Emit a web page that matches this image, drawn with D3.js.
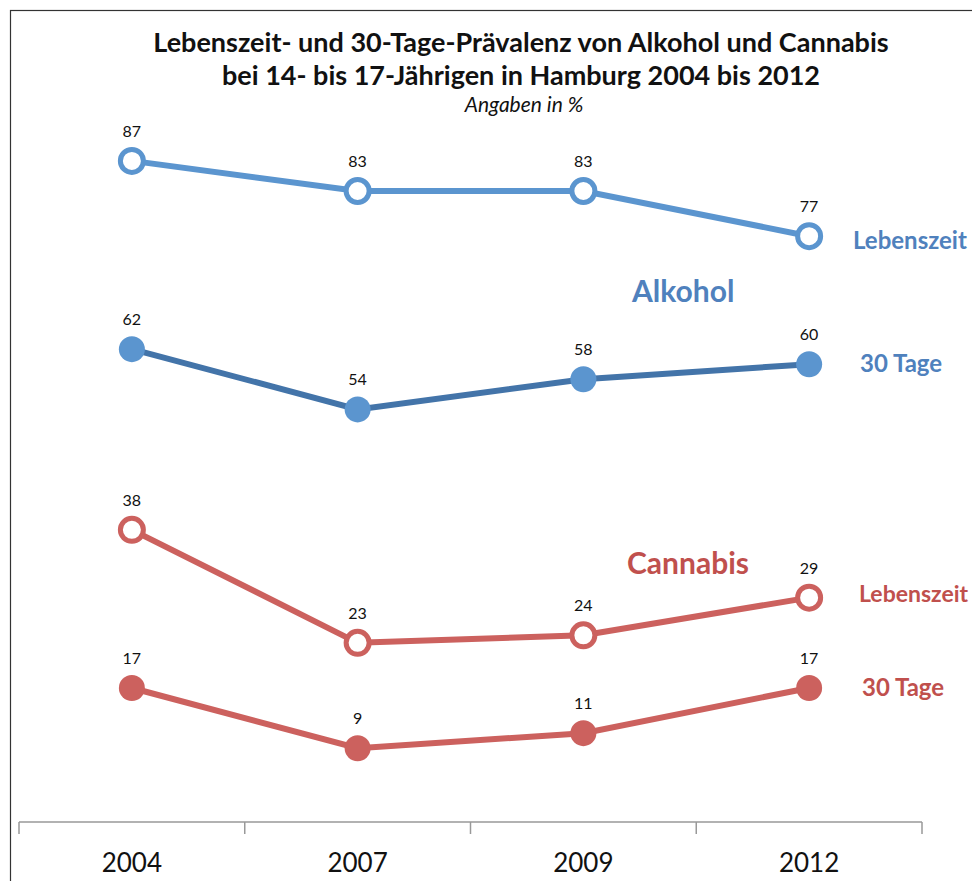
<!DOCTYPE html>
<html><head><meta charset="utf-8">
<script src="https://cdn.jsdelivr.net/npm/d3@7"></script>
<style>body{margin:0;background:#fff}</style>
</head><body>
<script>
const years = ["2004","2007","2009","2012"];
const alkoholLebenszeit = [87,83,83,77];
const alkohol30Tage = [62,54,58,60];
const cannabisLebenszeit = [38,23,24,29];
const cannabis30Tage = [17,9,11,17];
const titleLines = ["Lebenszeit- und 30-Tage-Prävalenz von Alkohol und Cannabis","bei 14- bis 17-Jährigen in Hamburg 2004 bis 2012"];
const subtitle = "Angaben in %";

const W=972,H=881;
const svg=d3.select("body").append("svg").attr("width",W).attr("height",H);
const font="Lato, 'Open Sans', sans-serif";
svg.append("rect").attr("x",10.5).attr("y",10.5).attr("width",W+20).attr("height",H+20).attr("fill","none").attr("stroke","#333").attr("stroke-width",1.2);

const x=d3.scaleBand().domain(years).range([19,922]);
const y=d3.scaleLinear().domain([0,100]).range([816,63]);

// title
svg.append("text").attr("x",521).attr("y",52).attr("text-anchor","middle").attr("font-family",font).attr("font-weight","bold").attr("font-size",27).attr("fill","#111").text(titleLines[0]);
svg.append("text").attr("x",521).attr("y",85).attr("text-anchor","middle").attr("font-family",font).attr("font-weight","bold").attr("font-size",27).attr("fill","#111").text(titleLines[1]);
svg.append("text").attr("x",524).attr("y",112).attr("text-anchor","middle").attr("font-family",font).attr("font-style","italic").attr("font-size",21).attr("fill","#111").text(subtitle);

// axis
const ax=svg.append("g").attr("transform","translate(0,822)");
ax.append("line").attr("x1",19).attr("x2",922).attr("stroke","#999").attr("stroke-width",1.5);
const bounds=years.map(d=>x(d)).concat([x.range()[1]]);
ax.selectAll("line.t").data(bounds).join("line").attr("class","t").attr("x1",d=>d).attr("x2",d=>d).attr("y1",0).attr("y2",12).attr("stroke","#999").attr("stroke-width",1.5);
ax.selectAll("text").data(years).join("text").attr("x",d=>x(d)+x.bandwidth()/2).attr("y",50).attr("text-anchor","middle").attr("font-family",font).attr("font-size",26).attr("fill","#111").text(d=>d);

const cx=d=>x(d)+x.bandwidth()/2;
const series=[
 {v:alkoholLebenszeit,line:"#5b95cf",mark:"#5b95cf",open:true},
 {v:alkohol30Tage,line:"#4374a9",mark:"#5b95cf",open:false},
 {v:cannabisLebenszeit,line:"#cc615e",mark:"#cc615e",open:true},
 {v:cannabis30Tage,line:"#cc615e",mark:"#cc615e",open:false}
];
const lineGen=d3.line().x((d,i)=>cx(years[i])).y(d=>y(d));
series.forEach(s=>{
  const g=svg.append("g");
  g.append("path").attr("d",lineGen(s.v)).attr("fill","none").attr("stroke",s.line).attr("stroke-width",6);
  g.selectAll("circle").data(s.v).join("circle").attr("cx",(d,i)=>cx(years[i])).attr("cy",d=>y(d))
   .attr("r",s.open?11.5:13).attr("fill",s.open?"#fff":s.mark).attr("stroke",s.mark).attr("stroke-width",s.open?5:0);
  g.selectAll("text").data(s.v).join("text").attr("x",(d,i)=>cx(years[i])).attr("y",d=>y(d)-24).attr("text-anchor","middle")
   .attr("font-family",font).attr("font-size",16).attr("fill","#111").text(d=>d);
});

const blue="#4f81bd", red="#c0504d";
const lbl=(t,xx,yy,c,fs)=>svg.append("text").attr("x",xx).attr("y",yy).attr("font-family",font).attr("font-weight","bold").attr("font-size",fs).attr("fill",c).text(t);
lbl("Lebenszeit",853,249,blue,24);
lbl("Alkohol",632,302,blue,30);
lbl("30 Tage",860,372,blue,24);
lbl("Cannabis",627,574,red,30);
lbl("Lebenszeit",859,602,red,23);
lbl("30 Tage",862,696,red,24);
</script>
</body></html>
